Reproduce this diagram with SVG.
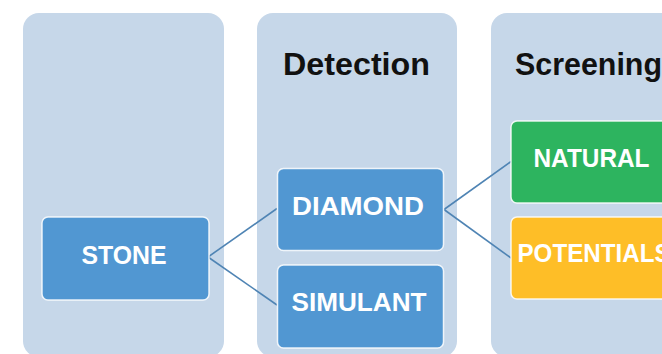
<svg xmlns="http://www.w3.org/2000/svg" width="662" height="354" viewBox="0 0 662 354">
<style>
.col{fill:#C6D7E9}
.box{stroke:#FFFFFF;stroke-width:1.5;stroke-opacity:0.85}
.blue{fill:#5197D2}
.green{fill:#2DB45F}
.yellow{fill:#FEBE27}
.head{font-family:"Liberation Sans",Arial,sans-serif;font-weight:bold;font-size:32px;fill:#111111}
.lbl{font-family:"Liberation Sans",Arial,sans-serif;font-weight:bold;font-size:26px;fill:#FFFFFF;text-anchor:middle}
.conn{stroke:#4F84B4;stroke-width:1.6;fill:none}
</style>
<rect width="662" height="354" fill="#FFFFFF"/>
<g id="columns">
  <rect class="col" x="23" y="13" width="201" height="344" rx="16"/>
  <rect class="col" x="257" y="13" width="200" height="344" rx="16"/>
  <rect class="col" x="491" y="13" width="200" height="344" rx="16"/>
  <text class="head" x="283" y="75" textLength="147" lengthAdjust="spacingAndGlyphs">Detection</text>
  <text class="head" x="515" y="75" textLength="147" lengthAdjust="spacingAndGlyphs">Screening</text>
</g>
<g id="connectors">
  <path class="conn" d="M208 257 L277 208.5"/>
  <path class="conn" d="M208 257 L277 305"/>
  <path class="conn" d="M444 209.5 L511 161.5"/>
  <path class="conn" d="M444 209.5 L511 258"/>
</g>
<g id="stone">
  <rect class="box blue" x="42" y="217" width="167" height="83" rx="6"/>
  <text class="lbl" x="124" y="263.5" textLength="85" lengthAdjust="spacingAndGlyphs">STONE</text>
</g>
<g id="diamond">
  <rect class="box blue" x="277.5" y="168.5" width="166" height="82" rx="6"/>
  <text class="lbl" x="358" y="214.5" textLength="132" lengthAdjust="spacingAndGlyphs">DIAMOND</text>
</g>
<g id="simulant">
  <rect class="box blue" x="277.5" y="265" width="166" height="83" rx="6"/>
  <text class="lbl" x="359" y="311" textLength="135" lengthAdjust="spacingAndGlyphs">SIMULANT</text>
</g>
<g id="natural">
  <rect class="box green" x="511" y="121" width="166" height="82" rx="6"/>
  <text class="lbl" x="591.5" y="167" textLength="116" lengthAdjust="spacingAndGlyphs">NATURAL</text>
</g>
<g id="potentials">
  <rect class="box yellow" x="511" y="217" width="166" height="82" rx="6"/>
  <text class="lbl" x="594" y="262" textLength="153" lengthAdjust="spacingAndGlyphs">POTENTIALS</text>
</g>
</svg>
